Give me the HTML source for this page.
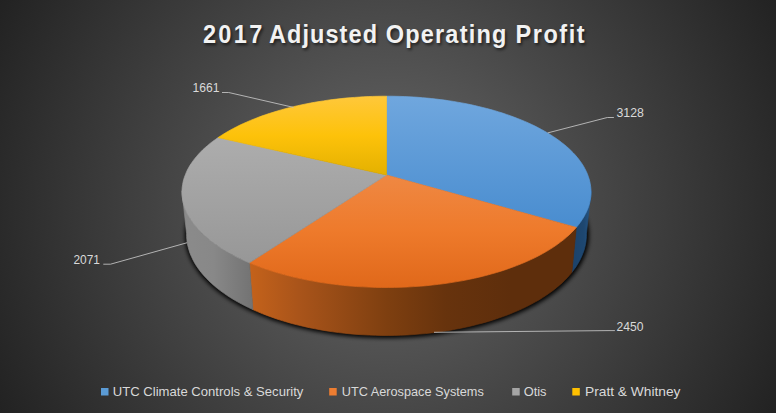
<!DOCTYPE html>
<html><head><meta charset="utf-8"><title>2017 Adjusted Operating Profit</title>
<style>
html,body{margin:0;padding:0;background:#262626;}
body{width:776px;height:413px;overflow:hidden;font-family:"Liberation Sans",sans-serif;}
svg{display:block;}
text{font-family:"Liberation Sans",sans-serif;}
</style></head><body>
<svg width="776" height="413" viewBox="0 0 776 413">
<defs>
<radialGradient id="bg" gradientUnits="userSpaceOnUse" cx="388" cy="206" r="440">
<stop offset="0" stop-color="#686868"/><stop offset="1" stop-color="#222222"/>
</radialGradient>
<linearGradient id="t_blue" gradientUnits="userSpaceOnUse" x1="0" y1="95" x2="0" y2="230">
<stop offset="0" stop-color="#70a7de"/><stop offset="1" stop-color="#488ccf"/></linearGradient>
<linearGradient id="t_orange" gradientUnits="userSpaceOnUse" x1="0" y1="175" x2="0" y2="288">
<stop offset="0" stop-color="#ef8843"/><stop offset="0.5" stop-color="#ee7a2b"/><stop offset="1" stop-color="#e0681a"/></linearGradient>
<linearGradient id="t_grey" gradientUnits="userSpaceOnUse" x1="0" y1="137" x2="0" y2="264">
<stop offset="0" stop-color="#adadad"/><stop offset="1" stop-color="#979797"/></linearGradient>
<linearGradient id="t_yellow" gradientUnits="userSpaceOnUse" x1="0" y1="95" x2="0" y2="176">
<stop offset="0" stop-color="#ffc83c"/><stop offset="0.5" stop-color="#fdc20a"/><stop offset="1" stop-color="#e3b000"/></linearGradient>
<linearGradient id="s_grey" gradientUnits="userSpaceOnUse" x1="182" y1="0" x2="252" y2="0">
<stop offset="0" stop-color="#8b8b8b"/><stop offset="0.45" stop-color="#888888"/><stop offset="1" stop-color="#737373"/></linearGradient>
<linearGradient id="s_orange" gradientUnits="userSpaceOnUse" x1="250" y1="0" x2="577" y2="0">
<stop offset="0" stop-color="#c4621b"/><stop offset="0.15" stop-color="#a9541a"/><stop offset="0.42" stop-color="#7e3f10"/><stop offset="0.6" stop-color="#67330d"/><stop offset="0.8" stop-color="#5e2e0c"/><stop offset="1" stop-color="#5e2e0c"/></linearGradient>
<linearGradient id="s_blue" gradientUnits="userSpaceOnUse" x1="572" y1="0" x2="592" y2="0">
<stop offset="0" stop-color="#1c426a"/><stop offset="0.6" stop-color="#1e4770"/><stop offset="1" stop-color="#275a8e"/></linearGradient>
<filter id="blur" x="-20%" y="-20%" width="140%" height="140%"><feGaussianBlur stdDeviation="2"/></filter>
<filter id="tsh" x="-10%" y="-30%" width="120%" height="180%"><feGaussianBlur stdDeviation="1.6"/></filter>
</defs>
<rect width="776" height="413" fill="url(#bg)"/>
<g filter="url(#blur)" opacity="1" transform="translate(0.5,0.5)"><path d="M386.5 133.6 L390.9 133.6 L395.3 133.7 L399.7 133.8 L404.1 134.0 L408.5 134.2 L412.8 134.5 L417.2 134.8 L421.5 135.2 L425.9 135.6 L430.2 136.0 L434.5 136.5 L438.8 137.1 L443.1 137.7 L447.3 138.4 L451.5 139.1 L455.7 139.8 L459.9 140.6 L464.0 141.5 L468.1 142.4 L472.2 143.3 L476.2 144.3 L480.2 145.4 L484.2 146.5 L488.1 147.6 L492.0 148.8 L495.8 150.0 L499.6 151.3 L503.3 152.6 L507.0 154.0 L510.6 155.4 L514.2 156.9 L517.7 158.4 L521.2 159.9 L524.6 161.5 L527.9 163.2 L531.2 164.9 L534.4 166.6 L537.5 168.4 L540.6 170.2 L543.5 172.1 L546.4 174.0 L549.3 175.9 L552.0 177.9 L554.6 179.9 L557.2 182.0 L559.7 184.1 L562.1 186.2 L564.3 188.4 L566.5 190.6 L568.6 192.9 L570.6 195.2 L572.5 197.5 L574.3 199.8 L575.9 202.2 L577.5 204.6 L578.9 207.1 L580.2 209.6 L581.4 212.1 L582.5 214.6 L583.5 217.1 L584.3 219.7 L585.0 222.3 L585.5 224.9 L586.0 227.6 L586.3 230.2 L586.4 232.9 L586.4 235.6 L586.3 238.3 L586.1 241.0 L585.6 243.7 L585.1 246.4 L584.4 249.1 L583.5 251.8 L582.5 254.5 L581.3 257.3 L580.0 260.0 L578.5 262.7 L576.9 265.4 L575.1 268.1 L573.2 270.7 L571.1 273.4 L568.8 276.0 L566.4 278.6 L563.8 281.2 L561.1 283.8 L558.2 286.3 L555.2 288.8 L552.0 291.2 L548.6 293.6 L545.1 296.0 L541.5 298.3 L537.7 300.6 L533.7 302.9 L529.6 305.0 L525.4 307.2 L521.0 309.2 L516.5 311.2 L511.9 313.2 L507.1 315.0 L502.3 316.8 L497.3 318.6 L492.1 320.2 L486.9 321.8 L481.6 323.3 L476.2 324.8 L470.6 326.1 L465.0 327.4 L459.3 328.6 L453.5 329.6 L447.7 330.6 L441.7 331.6 L435.8 332.4 L429.7 333.1 L423.6 333.7 L417.5 334.3 L411.3 334.7 L405.2 335.0 L399.0 335.3 L392.7 335.4 L386.5 335.5 L380.3 335.4 L374.0 335.3 L367.8 335.0 L361.7 334.7 L355.5 334.3 L349.4 333.7 L343.3 333.1 L337.2 332.4 L331.3 331.6 L325.3 330.6 L319.5 329.6 L313.7 328.6 L308.0 327.4 L302.4 326.1 L296.8 324.8 L291.4 323.3 L286.1 321.8 L280.9 320.2 L275.7 318.6 L270.7 316.8 L265.9 315.0 L261.1 313.2 L256.5 311.2 L252.0 309.2 L247.6 307.2 L243.4 305.0 L239.3 302.9 L235.3 300.6 L231.5 298.3 L227.9 296.0 L224.4 293.6 L221.0 291.2 L217.8 288.8 L214.8 286.3 L211.9 283.8 L209.2 281.2 L206.6 278.6 L204.2 276.0 L201.9 273.4 L199.8 270.7 L197.9 268.1 L196.1 265.4 L194.5 262.7 L193.0 260.0 L191.7 257.3 L190.5 254.5 L189.5 251.8 L188.6 249.1 L187.9 246.4 L187.4 243.7 L186.9 241.0 L186.7 238.3 L186.6 235.6 L186.6 232.9 L186.7 230.2 L187.0 227.6 L187.5 224.9 L188.0 222.3 L188.7 219.7 L189.5 217.1 L190.5 214.6 L191.6 212.1 L192.8 209.6 L194.1 207.1 L195.5 204.6 L197.1 202.2 L198.7 199.8 L200.5 197.5 L202.4 195.2 L204.4 192.9 L206.5 190.6 L208.7 188.4 L210.9 186.2 L213.3 184.1 L215.8 182.0 L218.4 179.9 L221.0 177.9 L223.7 175.9 L226.6 174.0 L229.5 172.1 L232.4 170.2 L235.5 168.4 L238.6 166.6 L241.8 164.9 L245.1 163.2 L248.4 161.5 L251.8 159.9 L255.3 158.4 L258.8 156.9 L262.4 155.4 L266.0 154.0 L269.7 152.6 L273.4 151.3 L277.2 150.0 L281.0 148.8 L284.9 147.6 L288.8 146.5 L292.8 145.4 L296.8 144.3 L300.8 143.3 L304.9 142.4 L309.0 141.5 L313.1 140.6 L317.3 139.8 L321.5 139.1 L325.7 138.4 L329.9 137.7 L334.2 137.1 L338.5 136.5 L342.8 136.0 L347.1 135.6 L351.5 135.2 L355.8 134.8 L360.2 134.5 L364.5 134.2 L368.9 134.0 L373.3 133.8 L377.7 133.7 L382.1 133.6 L386.5 133.6Z" fill="#000" stroke="#000" stroke-width="4" stroke-linejoin="round"/></g>
<path d="M591.0 190.8 L591.0 193.4 L590.8 196.0 L590.5 198.6 L590.0 201.2 L589.4 203.8 L588.6 206.5 L587.6 209.1 L586.5 211.8 L585.2 214.4 L583.8 217.0 L582.2 219.6 L580.4 222.2 L578.5 224.8 L576.3 227.4 L571.8 272.4 L573.9 269.7 L575.9 267.0 L577.6 264.2 L579.2 261.5 L580.6 258.7 L581.9 255.9 L583.0 253.1 L584.0 250.4 L584.8 247.6 L585.4 244.8 L585.9 242.0 L586.2 239.3 L586.4 236.5 L586.4 233.8Z" fill="url(#s_blue)" stroke="url(#s_blue)" stroke-width="0.7" stroke-linejoin="round"/>
<path d="M576.3 227.4 L574.1 229.9 L571.7 232.4 L569.1 234.9 L566.4 237.3 L563.5 239.8 L560.4 242.1 L557.2 244.5 L553.9 246.8 L550.3 249.1 L546.7 251.3 L542.8 253.5 L538.8 255.7 L534.7 257.8 L530.4 259.8 L526.0 261.8 L521.4 263.7 L516.7 265.6 L511.8 267.4 L506.9 269.2 L501.8 270.9 L496.6 272.5 L491.2 274.0 L485.8 275.5 L480.2 276.9 L474.6 278.2 L468.8 279.4 L463.0 280.6 L457.0 281.6 L451.0 282.6 L445.0 283.5 L438.8 284.3 L432.6 285.0 L426.4 285.7 L420.1 286.2 L413.8 286.6 L407.4 287.0 L401.0 287.3 L394.6 287.4 L388.2 287.5 L381.8 287.5 L375.4 287.4 L369.0 287.1 L362.6 286.8 L356.3 286.5 L350.0 286.0 L343.7 285.4 L337.5 284.7 L331.3 283.9 L325.2 283.1 L319.1 282.2 L313.2 281.1 L307.3 280.0 L301.5 278.8 L295.8 277.6 L290.2 276.2 L284.7 274.8 L279.3 273.3 L274.0 271.7 L268.8 270.1 L263.8 268.4 L258.9 266.6 L254.1 264.7 L249.4 262.8 L252.9 309.6 L257.4 311.6 L262.1 313.6 L266.9 315.4 L271.8 317.2 L276.8 319.0 L282.0 320.6 L287.3 322.2 L292.6 323.7 L298.1 325.1 L303.7 326.4 L309.3 327.7 L315.1 328.8 L320.9 329.9 L326.8 330.9 L332.7 331.8 L338.7 332.6 L344.8 333.3 L350.9 333.9 L357.1 334.4 L363.2 334.8 L369.4 335.1 L375.7 335.3 L381.9 335.5 L388.2 335.5 L394.4 335.4 L400.6 335.2 L406.9 335.0 L413.1 334.6 L419.2 334.1 L425.4 333.6 L431.4 332.9 L437.5 332.2 L443.5 331.3 L449.4 330.4 L455.2 329.3 L461.0 328.2 L466.7 327.0 L472.3 325.7 L477.8 324.3 L483.2 322.9 L488.5 321.4 L493.8 319.7 L498.8 318.0 L503.8 316.3 L508.7 314.5 L513.4 312.5 L518.0 310.6 L522.5 308.6 L526.8 306.5 L531.0 304.3 L535.0 302.1 L539.0 299.9 L542.7 297.6 L546.3 295.2 L549.8 292.8 L553.1 290.4 L556.2 287.9 L559.2 285.4 L562.1 282.9 L564.7 280.3 L567.3 277.7 L569.6 275.1 L571.8 272.4Z" fill="url(#s_orange)" stroke="url(#s_orange)" stroke-width="0.7" stroke-linejoin="round"/>
<path d="M249.4 262.8 L244.8 260.8 L240.3 258.8 L236.0 256.6 L231.8 254.4 L227.8 252.2 L224.0 249.9 L220.3 247.6 L216.8 245.2 L213.4 242.8 L210.3 240.4 L207.3 237.9 L204.4 235.4 L201.7 232.9 L199.2 230.3 L196.9 227.7 L194.8 225.1 L192.8 222.5 L191.0 219.9 L189.3 217.2 L187.9 214.6 L186.6 211.9 L185.4 209.3 L184.5 206.6 L183.6 204.0 L183.0 201.3 L182.5 198.7 L182.2 196.0 L182.0 193.4 L182.0 190.8 L186.6 233.8 L186.6 236.5 L186.8 239.3 L187.1 242.1 L187.6 244.9 L188.3 247.7 L189.1 250.5 L190.0 253.3 L191.2 256.1 L192.5 258.9 L193.9 261.7 L195.5 264.5 L197.3 267.2 L199.3 270.0 L201.4 272.7 L203.7 275.4 L206.2 278.1 L208.8 280.8 L211.6 283.4 L214.5 286.0 L217.6 288.6 L220.9 291.1 L224.4 293.6 L228.0 296.1 L231.8 298.5 L235.7 300.8 L239.8 303.1 L244.0 305.3 L248.4 307.5 L252.9 309.6Z" fill="url(#s_grey)" stroke="url(#s_grey)" stroke-width="0.7" stroke-linejoin="round"/>
<path d="M386.5 175.0 L386.5 96.2 L391.0 96.2 L395.5 96.3 L400.0 96.4 L404.5 96.6 L409.0 96.8 L413.5 97.0 L418.0 97.3 L422.5 97.7 L426.9 98.1 L431.4 98.5 L435.8 99.0 L440.2 99.6 L444.6 100.1 L448.9 100.8 L453.3 101.4 L457.6 102.2 L461.8 102.9 L466.1 103.7 L470.3 104.6 L474.5 105.5 L478.6 106.5 L482.7 107.5 L486.8 108.5 L490.8 109.6 L494.8 110.7 L498.7 111.9 L502.6 113.1 L506.4 114.4 L510.2 115.7 L513.9 117.1 L517.6 118.5 L521.2 119.9 L524.8 121.4 L528.3 122.9 L531.7 124.5 L535.0 126.1 L538.3 127.8 L541.5 129.5 L544.6 131.2 L547.7 133.0 L550.6 134.8 L553.5 136.7 L556.3 138.6 L559.0 140.5 L561.6 142.5 L564.2 144.5 L566.6 146.5 L568.9 148.6 L571.2 150.8 L573.3 152.9 L575.3 155.1 L577.2 157.3 L579.0 159.6 L580.7 161.9 L582.3 164.2 L583.7 166.5 L585.0 168.9 L586.2 171.3 L587.3 173.7 L588.2 176.2 L589.0 178.6 L589.7 181.1 L590.2 183.6 L590.6 186.1 L590.9 188.7 L591.0 191.2 L591.0 193.8 L590.8 196.4 L590.4 199.0 L589.9 201.6 L589.3 204.2 L588.5 206.8 L587.5 209.4 L586.4 212.0 L585.1 214.6 L583.7 217.2 L582.1 219.7 L580.4 222.3 L578.4 224.9 L576.3 227.4Z" fill="url(#t_blue)" stroke="url(#t_blue)" stroke-width="0.7" stroke-linejoin="round"/>
<path d="M386.5 175.0 L576.3 227.4 L574.1 229.9 L571.7 232.4 L569.1 234.9 L566.4 237.3 L563.5 239.8 L560.4 242.1 L557.2 244.5 L553.9 246.8 L550.3 249.1 L546.7 251.3 L542.8 253.5 L538.8 255.7 L534.7 257.8 L530.4 259.8 L526.0 261.8 L521.4 263.7 L516.7 265.6 L511.8 267.4 L506.9 269.2 L501.8 270.9 L496.6 272.5 L491.2 274.0 L485.8 275.5 L480.2 276.9 L474.6 278.2 L468.8 279.4 L463.0 280.6 L457.0 281.6 L451.0 282.6 L445.0 283.5 L438.8 284.3 L432.6 285.0 L426.4 285.7 L420.1 286.2 L413.8 286.6 L407.4 287.0 L401.0 287.3 L394.6 287.4 L388.2 287.5 L381.8 287.5 L375.4 287.4 L369.0 287.1 L362.6 286.8 L356.3 286.5 L350.0 286.0 L343.7 285.4 L337.5 284.7 L331.3 283.9 L325.2 283.1 L319.1 282.2 L313.2 281.1 L307.3 280.0 L301.5 278.8 L295.8 277.6 L290.2 276.2 L284.7 274.8 L279.3 273.3 L274.0 271.7 L268.8 270.1 L263.8 268.4 L258.9 266.6 L254.1 264.7 L249.4 262.8Z" fill="url(#t_orange)" stroke="url(#t_orange)" stroke-width="0.7" stroke-linejoin="round"/>
<path d="M386.5 175.0 L249.4 262.8 L244.9 260.9 L240.5 258.8 L236.3 256.8 L232.2 254.6 L228.3 252.4 L224.5 250.2 L220.9 248.0 L217.4 245.6 L214.1 243.3 L211.0 240.9 L208.0 238.5 L205.2 236.1 L202.5 233.6 L200.0 231.1 L197.7 228.6 L195.5 226.0 L193.5 223.5 L191.7 220.9 L190.0 218.3 L188.5 215.8 L187.1 213.2 L186.0 210.6 L184.9 208.0 L184.1 205.4 L183.3 202.8 L182.8 200.2 L182.4 197.6 L182.1 195.0 L182.0 192.4 L182.0 189.9 L182.2 187.3 L182.6 184.8 L183.0 182.3 L183.6 179.8 L184.4 177.3 L185.3 174.9 L186.3 172.4 L187.4 170.0 L188.7 167.6 L190.0 165.3 L191.6 163.0 L193.2 160.7 L194.9 158.4 L196.8 156.2 L198.7 154.0 L200.8 151.8 L203.0 149.6 L205.3 147.5 L207.7 145.5 L210.1 143.4 L212.7 141.4 L215.4 139.5 L218.1 137.6Z" fill="url(#t_grey)" stroke="url(#t_grey)" stroke-width="0.7" stroke-linejoin="round"/>
<path d="M386.5 175.0 L218.1 137.6 L221.0 135.7 L224.0 133.8 L227.0 132.0 L230.1 130.2 L233.3 128.5 L236.6 126.8 L240.0 125.1 L243.4 123.5 L246.9 122.0 L250.5 120.4 L254.1 119.0 L257.8 117.5 L261.5 116.1 L265.3 114.8 L269.2 113.5 L273.1 112.3 L277.1 111.1 L281.1 109.9 L285.1 108.8 L289.2 107.7 L293.4 106.7 L297.6 105.7 L301.8 104.8 L306.0 103.9 L310.3 103.1 L314.6 102.3 L319.0 101.6 L323.4 100.9 L327.8 100.2 L332.2 99.6 L336.7 99.1 L341.1 98.6 L345.6 98.1 L350.1 97.7 L354.6 97.4 L359.2 97.1 L363.7 96.8 L368.2 96.6 L372.8 96.4 L377.4 96.3 L381.9 96.2 L386.5 96.2Z" fill="url(#t_yellow)" stroke="url(#t_yellow)" stroke-width="0.7" stroke-linejoin="round"/>
<g fill="none" stroke="#bfbfbf" stroke-width="0.9">
<polyline points="222,92.5 228.7,92.5 293.6,107.4"/>
<polyline points="613.9,117.5 607.3,117.5 547.7,132.9"/>
<polyline points="103.3,264.2 110.5,264.2 187.2,242.7"/>
<polyline points="614.9,330.6 608,330.6 434,332.3"/>
</g>
<g font-size="12.2" fill="#d9d9d9">
<text x="192.5" y="92" textLength="27" lengthAdjust="spacingAndGlyphs">1661</text>
<text x="616.5" y="117" textLength="27.4" lengthAdjust="spacingAndGlyphs">3128</text>
<text x="73.5" y="263.8" textLength="26.5" lengthAdjust="spacingAndGlyphs">2071</text>
<text x="616.4" y="331" textLength="27" lengthAdjust="spacingAndGlyphs">2450</text>
</g>
<g font-size="25.3" font-weight="bold">
<g fill="#000" opacity="0.6" filter="url(#tsh)" transform="translate(1.5,1.8)">
<text transform="translate(202.94,42.8) scale(0.93,1)" textLength="63.79" lengthAdjust="spacing">2017</text>
<text transform="translate(268.97,42.8) scale(0.93,1)" textLength="116.22" lengthAdjust="spacing">Adjusted</text>
<text transform="translate(385.74,42.8) scale(0.93,1)" textLength="129.63" lengthAdjust="spacing">Operating</text>
<text transform="translate(515.56,42.8) scale(0.93,1)" textLength="74.28" lengthAdjust="spacing">Profit</text>
</g>
<g fill="#f2f2f2">
<text transform="translate(202.94,42.8) scale(0.93,1)" textLength="63.79" lengthAdjust="spacing">2017</text>
<text transform="translate(268.97,42.8) scale(0.93,1)" textLength="116.22" lengthAdjust="spacing">Adjusted</text>
<text transform="translate(385.74,42.8) scale(0.93,1)" textLength="129.63" lengthAdjust="spacing">Operating</text>
<text transform="translate(515.56,42.8) scale(0.93,1)" textLength="74.28" lengthAdjust="spacing">Profit</text>
</g>
</g>
<g>
<rect x="101" y="388" width="7.5" height="7.5" fill="#5b9bd5"/>
<rect x="329.2" y="388" width="7.5" height="7.5" fill="#ed7d31"/>
<rect x="512.2" y="388" width="7.5" height="7.5" fill="#a5a5a5"/>
<rect x="572.3" y="388" width="7.5" height="7.5" fill="#ffc000"/>
</g>
<g font-size="12.6" fill="#d9d9d9">
<text x="112.8" y="396" textLength="190.6" lengthAdjust="spacingAndGlyphs">UTC Climate Controls &amp; Security</text>
<text x="341.8" y="396" textLength="142" lengthAdjust="spacingAndGlyphs">UTC Aerospace Systems</text>
<text x="523.7" y="396" textLength="22.8" lengthAdjust="spacingAndGlyphs">Otis</text>
<text x="585" y="396" textLength="95.5" lengthAdjust="spacingAndGlyphs">Pratt &amp; Whitney</text>
</g>
</svg>
</body></html>
